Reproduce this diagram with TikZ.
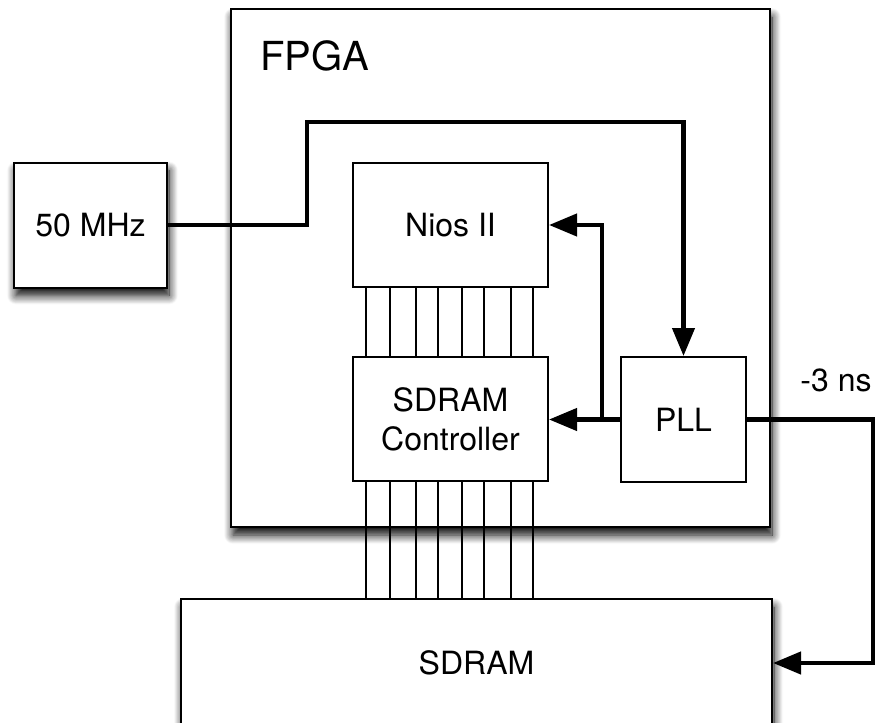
\documentclass[tikz,border=0pt]{standalone}
\usepackage{fontspec}
\setmainfont{TeX Gyre Heros}
\usetikzlibrary{arrows.meta,shadows.blur,calc}
\begin{document}
\begin{tikzpicture}[x=1pt,y=-1pt,
  box/.style={draw, line width=2pt, fill=white, inner sep=0pt,
    font=\fontsize{32}{39}\selectfont, align=center},
  shbox/.style={box, blur shadow={shadow xshift=2pt, shadow yshift=-8pt,
    shadow blur radius=9pt, shadow opacity=100, shadow blur steps=12}},
  wire/.style={line width=4.3pt},
  arr/.style={wire, -{Triangle[length=28pt,width=22pt]}},
  bus/.style={line width=1.8pt}]
\useasboundingbox (0,0) rectangle (876,723);
\node[shbox, minimum width=539pt, minimum height=518pt] (fpga) at (500.5,268) {};
\node[anchor=base west, font=\fontsize{40}{46}\selectfont] (fpgalbl) at (257,70) {FPGA};
\node[shbox, minimum width=153pt, minimum height=125pt] (mhz) at (90.5,225) {50 MHz};
\node[shbox, minimum width=591pt, minimum height=128pt] (sdram) at (476.5,663) {SDRAM};
\node[box, minimum width=195pt, minimum height=124pt] (nios) at (450.5,225) {Nios II};
\node[box, minimum width=195pt, minimum height=124pt] (ctrl) at (450.5,419) {SDRAM\\Controller};
\node[box, minimum width=125pt, minimum height=125pt] (pll) at (683.5,419.5) {PLL};
\node[anchor=base, font=\fontsize{32}{39}\selectfont] (ns) at (836,391) {-3 ns};
% bus lines
\foreach \dx [count=\i] in {14,38,64,86,110,132,159,181} {
  \draw[bus] ([xshift=\dx pt]nios.south west) -- ([xshift=\dx pt]ctrl.north west);
  \path ([xshift=\dx pt]ctrl.south west) coordinate (b\i);
  \draw[bus] (b\i) -- (b\i |- sdram.north);
}
% clock wire
\coordinate (c1) at (307,122);
\draw[arr] (mhz.east) -| (c1) -| (pll.north);
% PLL outputs
\coordinate (j) at (602,419.5);
\draw[arr] (pll.west) -- (pll.west -| ctrl.east);
\draw[arr] (j) |- (nios.east);
\coordinate (r) at (873,419.5);
\draw[arr] (pll.east) -- (r) |- (sdram.east);
\end{tikzpicture}
\end{document}
